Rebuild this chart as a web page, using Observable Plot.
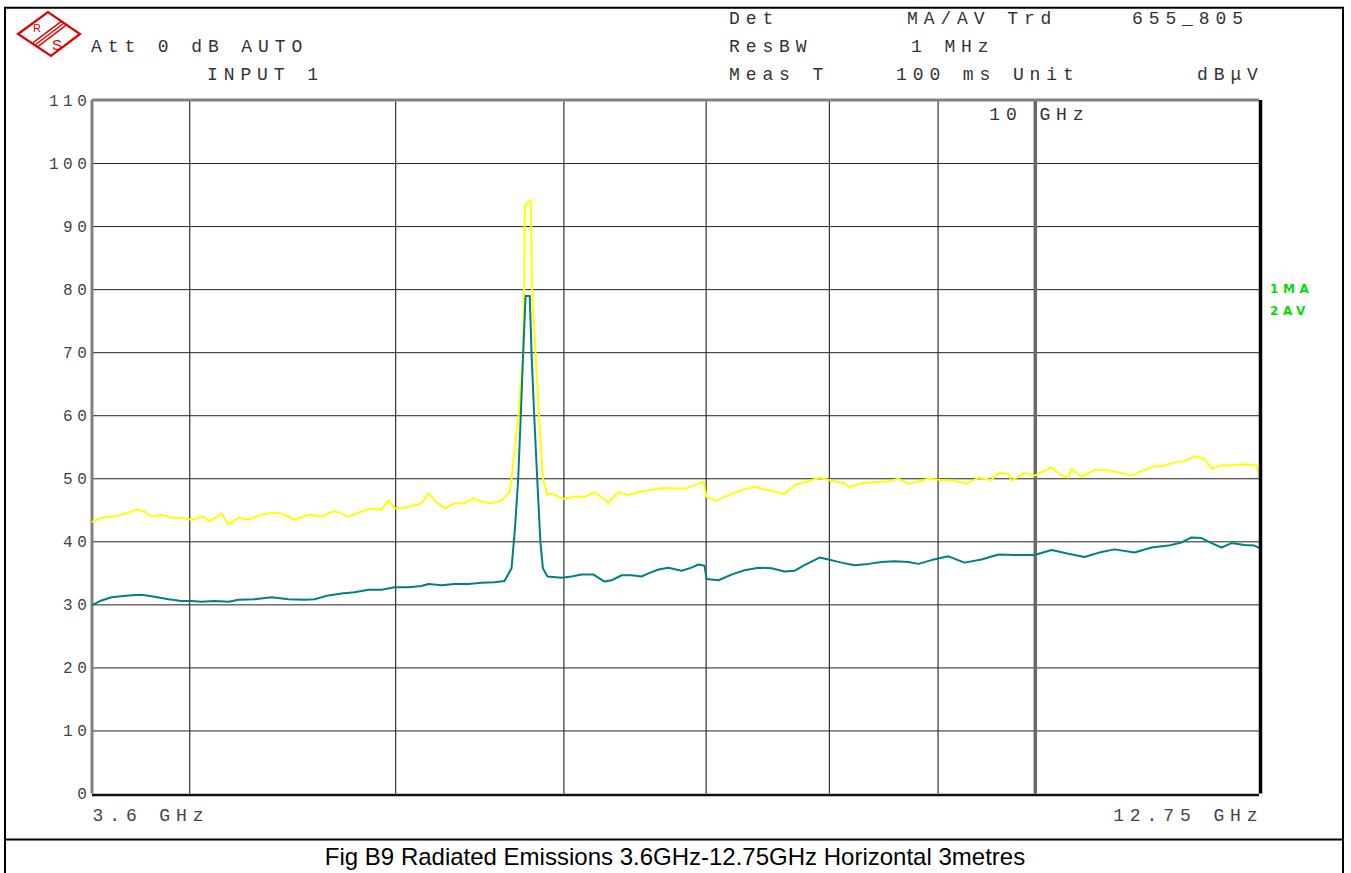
<!DOCTYPE html>
<html>
<head>
<meta charset="utf-8">
<script src="https://cdn.jsdelivr.net/npm/d3@7"></script>
<script src="https://cdn.jsdelivr.net/npm/@observablehq/plot@0.6"></script>
<style>
  html, body { margin: 0; padding: 0; background: #fff; }
  #wrap { position: relative; width: 1351px; height: 873px; overflow: hidden; }
  #wrap svg { position: absolute; left: 0; top: 0; }
  #wrap g[aria-label="y-axis tick label"] text { letter-spacing: 4.6px; }
  #wrap g[aria-label="x-axis tick label"] text { letter-spacing: 5.9px; }
  #wrap g[aria-label="text"] text { letter-spacing: 5.9px; }
  .hdr { font-family: "Liberation Mono", "DejaVu Sans Mono", monospace; font-size: 18px; letter-spacing: 5.9px; fill: #333; }
  .trc { font-family: "DejaVu Sans", sans-serif; font-weight: bold; font-size: 12px; letter-spacing: 4.6px; fill: #00dd00; }
  .cap { font-family: "Liberation Sans", Arial, sans-serif; font-size: 24px; fill: #000; }
</style>
</head>
<body>
<div id="wrap"></div>
<script>
// Trace 1: max-peak detector (MA), level in dBµV against frequency in GHz
const maFreq = [3.600,3.635,3.687,3.715,3.776,3.809,3.838,3.880,3.922,3.964,
  4.008,4.060,4.087,4.140,4.172,4.217,4.263,4.323,4.371,4.418,
  4.481,4.549,4.614,4.679,4.751,4.818,4.871,4.924,4.961,4.994,
  5.070,5.103,5.142,5.181,5.215,5.272,5.329,5.387,5.440,5.487,
  5.547,5.608,5.638,5.657,5.669,5.690,5.712,5.741,5.747,5.751,
  5.770,5.788,5.797,5.819,5.840,5.865,5.894,5.920,6.004,6.069,
  6.135,6.202,6.297,6.366,6.435,6.505,6.576,6.669,6.764,6.838,
  6.912,6.980,7.003,7.079,7.172,7.273,7.377,7.489,7.620,7.703,
  7.821,7.915,8.018,8.132,8.168,8.283,8.401,8.529,8.622,8.716,
  8.821,8.907,9.034,9.162,9.282,9.403,9.536,9.609,9.714,9.745,
  9.884,9.991,10.177,10.288,10.366,10.400,10.513,10.663,10.826,10.979,
  11.099,11.220,11.342,11.503,11.628,11.755,11.883,12.012,12.104,12.236,
  12.409,12.545,12.709,12.750];
const maLevel = [43.2,43.8,44.0,44.3,45.1,44.8,44.0,44.3,43.8,43.8,
  43.5,44.0,43.2,44.5,42.7,43.8,43.5,44.3,44.6,44.5,
  43.5,44.3,44.0,44.9,44.0,44.8,45.3,45.1,46.6,45.3,
  45.5,45.8,46.1,47.7,46.6,45.3,46.1,46.1,46.9,46.4,
  46.1,46.6,47.4,47.9,50.0,55.0,60.0,70.0,80.0,93.4,
  93.8,94.2,80.0,70.0,60.0,50.0,47.4,47.6,46.8,47.2,
  47.1,47.9,46.2,47.9,47.4,47.9,48.2,48.5,48.5,48.4,
  49.0,49.5,47.1,46.5,47.4,48.2,48.7,48.2,47.6,49.0,
  49.6,50.2,49.7,49.3,48.7,49.3,49.5,49.6,50.0,49.2,
  49.6,50.0,49.8,49.7,49.2,50.2,49.8,50.9,50.8,49.7,
  50.9,50.5,51.8,50.5,50.2,51.6,50.3,51.4,51.3,50.9,
  50.5,51.2,51.9,52.1,52.6,52.8,53.6,53.1,51.6,52.1,
  52.2,52.3,52.1,50.5];

// Trace 2: average detector (AV)
const avFreq = [3.600,3.635,3.675,3.743,3.796,3.850,3.909,3.964,4.008,4.051,
  4.109,4.172,4.217,4.291,4.371,4.452,4.530,4.579,4.649,4.715,
  4.782,4.855,4.924,4.994,5.070,5.142,5.181,5.255,5.329,5.411,
  5.487,5.565,5.626,5.669,5.690,5.710,5.726,5.741,5.756,5.782,
  5.793,5.810,5.829,5.849,5.865,5.894,5.984,6.050,6.116,6.196,
  6.270,6.318,6.387,6.456,6.526,6.576,6.648,6.720,6.816,6.890,
  6.942,6.988,7.003,7.094,7.195,7.297,7.409,7.514,7.620,7.703,
  7.787,7.915,7.992,8.106,8.221,8.346,8.465,8.585,8.716,8.811,
  8.936,9.102,9.261,9.434,9.609,9.777,9.991,10.177,10.366,10.548,
  10.744,10.896,11.135,11.342,11.553,11.717,11.844,11.973,12.104,12.236,
  12.369,12.545,12.681,12.750];
const avLevel = [30.0,30.7,31.2,31.5,31.6,31.3,30.9,30.6,30.6,30.5,
  30.6,30.5,30.8,30.9,31.2,30.9,30.8,30.9,31.5,31.8,
  32.0,32.4,32.4,32.8,32.8,33.0,33.3,33.1,33.3,33.3,
  33.5,33.6,33.8,35.8,42.1,50.0,60.0,70.0,79.0,79.0,
  70.0,60.0,50.0,40.0,35.8,34.5,34.3,34.5,34.8,34.8,
  33.7,33.9,34.7,34.7,34.5,35.0,35.6,35.9,35.4,35.9,
  36.4,36.2,34.1,33.9,34.8,35.5,35.9,35.8,35.3,35.4,
  36.3,37.5,37.2,36.7,36.3,36.5,36.8,36.9,36.8,36.5,
  37.1,37.7,36.7,37.2,38.0,37.9,37.9,38.7,38.1,37.6,
  38.4,38.8,38.3,39.1,39.4,39.9,40.7,40.6,39.8,39.1,
  39.8,39.5,39.4,39.0];

// Axis and grid values
const levelTicks = [0, 10, 20, 30, 40, 50, 60, 70, 80, 90, 100, 110];
const gridFreqs = [4, 5, 6, 7, 8, 9, 10];
const startFreq = [3.6];
const stopFreq = [12.75];
const markerFreq = [10];

// Instrument settings shown in the header
const headerRows = [
  [["Det", 729], ["MA/AV Trd", 907], ["655_805", 1132]],
  [["Att 0 dB AUTO", 91], ["ResBW", 729], ["1 MHz", 911]],
  [["INPUT 1", 207], ["Meas T", 729], ["100 ms Unit", 896], ["dBμV", 1197]]
];
const headerBaselines = [24, 52, 80];
const traceNames = ["1MA", "2AV"];
const caption = "Fig B9 Radiated Emissions 3.6GHz-12.75GHz Horizontal 3metres";

const ma = maFreq.map((f, i) => ({freq: f, level: maLevel[i]}));
const av = avFreq.map((f, i) => ({freq: f, level: avLevel[i]}));

const mono = '"Liberation Mono", "DejaVu Sans Mono", monospace';
const ghz = d => `${d} GHz`;

const chart = Plot.plot({
  width: 1351,
  height: 873,
  marginLeft: 92,
  marginRight: 92,
  marginTop: 100,
  marginBottom: 79.5,
  style: {fontFamily: mono, background: "transparent", color: "#333"},
  x: {type: "log", domain: [3.6, 12.75]},
  y: {domain: [0, 110]},
  marks: [
    Plot.gridY(levelTicks.slice(1, -1), {stroke: "#222", strokeOpacity: 1, strokeWidth: 1}),
    Plot.gridX(gridFreqs, {stroke: "#333", strokeOpacity: 1, strokeWidth: 1.2}),
    Plot.ruleX(markerFreq, {stroke: "#6a6a6a", strokeWidth: 3.5}),
    Plot.ruleX(startFreq, {stroke: "#808080", strokeWidth: 3, dx: -0.5}),
    Plot.ruleY([110], {stroke: "#808080", strokeWidth: 3, dy: -0.5}),
    Plot.line(ma, {x: "freq", y: "level", stroke: "#ffff00", strokeWidth: 2}),
    Plot.line(av, {x: "freq", y: "level", stroke: "#008080", strokeWidth: 2}),
    Plot.ruleX(stopFreq, {stroke: "#000", strokeWidth: 3.5, dx: 1}),
    Plot.ruleY([0], {stroke: "#111", strokeWidth: 2.5, dy: 1}),
    Plot.axisY(levelTicks, {tickSize: 0, tickPadding: 1, fontSize: 16, fill: "#444", label: null}),
    Plot.axisX(startFreq, {tickSize: 0, tickPadding: 14, textAnchor: "start", fontSize: 18, fill: "#444", label: null, tickFormat: ghz}),
    Plot.axisX(stopFreq, {tickSize: 0, tickPadding: 14, textAnchor: "end", dx: 4, fontSize: 18, fill: "#444", label: null, tickFormat: ghz}),
    Plot.text(markerFreq, {x: d => d, frameAnchor: "top", lineAnchor: "middle", dy: 14, dx: -46, textAnchor: "start",
      text: ghz, fontSize: 18, fill: "#333"})
  ]
});

const wrap = document.getElementById("wrap");
wrap.appendChild(chart);

// Header, trace names, caption and the screen frame
const over = d3.create("svg").attr("width", 1351).attr("height", 873);

const frame = over.append("g").attr("stroke", "#000").attr("stroke-width", 2);
frame.append("line").attr("x1", 4).attr("x2", 1344).attr("y1", 7.7).attr("y2", 7.7);
frame.append("line").attr("x1", 5).attr("x2", 5).attr("y1", 7).attr("y2", 873);
frame.append("line").attr("x1", 1343).attr("x2", 1343).attr("y1", 7).attr("y2", 873);
frame.append("line").attr("x1", 4).attr("x2", 1344).attr("y1", 839.5).attr("y2", 839.5);

// Rohde & Schwarz emblem
const logo = over.append("g").attr("stroke", "#e00000").attr("fill", "none");
logo.append("polygon").attr("points", "18,34 48,12 80,34 51,56").attr("stroke-width", 2.2);
[-3, 0, 3].forEach(o => {
  logo.append("line").attr("x1", 35 + o * 0.6).attr("y1", 45 + o * 0.8)
    .attr("x2", 64 + o * 0.6).attr("y2", 23 + o * 0.8).attr("stroke-width", 1.4);
});
over.append("text").attr("x", 33).attr("y", 32).attr("fill", "#e00000")
  .attr("font-family", "Liberation Sans, sans-serif").attr("font-size", 11).text("R");
over.append("text").attr("x", 52).attr("y", 50).attr("fill", "#e00000")
  .attr("font-family", "Liberation Sans, sans-serif").attr("font-size", 15).text("S");

headerRows.forEach((row, r) => {
  row.forEach(([label, x]) => {
    over.append("text").attr("class", "hdr").attr("x", x).attr("y", headerBaselines[r]).text(label);
  });
});

traceNames.forEach((t, i) => {
  over.append("text").attr("class", "trc").attr("x", 1270).attr("y", 293 + i * 22).text(t);
});

over.append("text").attr("class", "cap").attr("x", 675).attr("y", 865)
  .attr("text-anchor", "middle").text(caption);

wrap.appendChild(over.node());
</script>
</body>
</html>
